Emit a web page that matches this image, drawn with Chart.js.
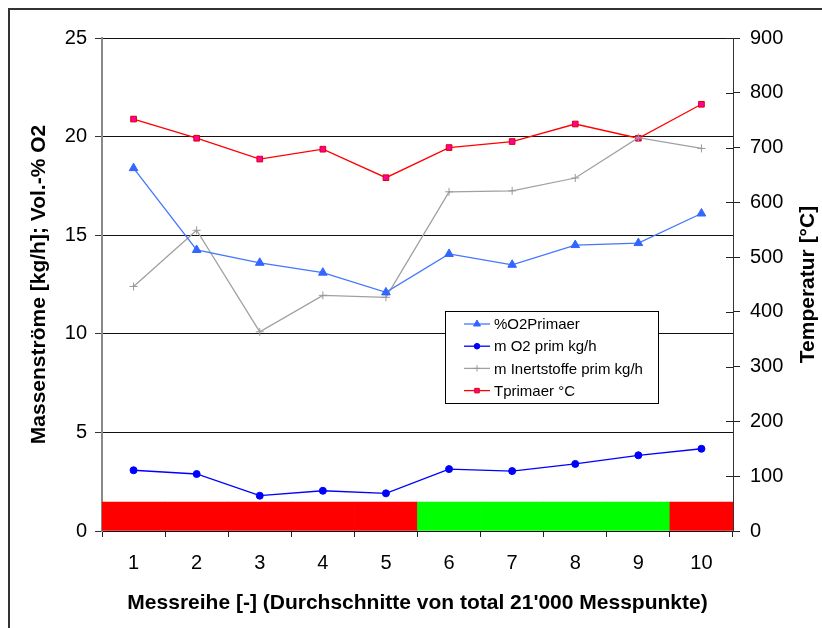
<!DOCTYPE html>
<html>
<head>
<meta charset="utf-8">
<script src="https://cdn.jsdelivr.net/npm/chart.js@4/dist/chart.umd.min.js"></script>
<style>
    html, body { margin: 0; padding: 0; background: #fff; overflow: hidden; }
    #wrap { position: relative; width: 822px; height: 628px; }
    #frame { position: absolute; left: 8px; top: 8px; width: 830px; height: 640px; border: 2px solid #333; box-sizing: border-box; pointer-events: none; }
</style>
</head>
<body>
<div id="wrap">
    <canvas id="chart" width="822" height="628"></canvas>
    <div id="frame"></div>
</div>
<script>
const categories = ['1', '2', '3', '4', '5', '6', '7', '8', '9', '10'];
const o2Primaer = [18.4, 14.25, 13.6, 13.1, 12.1, 14.05, 13.5, 14.5, 14.6, 16.1];
const mO2Prim = [3.08, 2.89, 1.79, 2.04, 1.91, 3.14, 3.04, 3.4, 3.84, 4.17];
const mInertPrim = [12.4, 15.25, 10.1, 11.95, 11.85, 17.2, 17.25, 17.9, 19.95, 19.4];
const tPrimaer = [752, 717, 679, 697, 645, 700, 711, 743, 717, 779];
// Betriebszustand je Messreihe (Band unten)
const bandStatus = ['rot', 'rot', 'rot', 'rot', 'rot', 'gruen', 'gruen', 'gruen', 'gruen', 'rot'];
const bandHeight = [1.47, 1.47, 1.47, 1.47, 1.47, 1.47, 1.47, 1.47, 1.47, 1.47];
const leftTicks = [0, 5, 10, 15, 20, 25];
const rightTicks = [0, 100, 200, 300, 400, 500, 600, 700, 800, 900];

const FONT = "'Liberation Sans', Arial, sans-serif";
Chart.defaults.font.family = FONT;
Chart.defaults.color = '#000';

const bandColors = {rot: '#ff0000', gruen: '#00ff00'};

const lineSets = [{
    label: '%O2Primaer',
    data: o2Primaer,
    yAxisID: 'y',
    borderColor: '#4477ff',
    pointBackgroundColor: '#3366ff',
    pointBorderColor: '#3366ff',
    pointStyle: 'triangle',
    pointRadius: 5
}, {
    label: 'm O2 prim kg/h',
    data: mO2Prim,
    yAxisID: 'y',
    borderColor: '#0000ff',
    pointBackgroundColor: '#0000ff',
    pointBorderColor: '#0000ff',
    pointStyle: 'circle',
    pointRadius: 3.5
}, {
    label: 'm Inertstoffe prim kg/h',
    data: mInertPrim,
    yAxisID: 'y',
    borderColor: '#a0a0a0',
    pointBackgroundColor: '#999',
    pointBorderColor: '#999',
    pointStyle: 'cross',
    pointRadius: 4
}, {
    label: 'Tprimaer °C',
    data: tPrimaer,
    yAxisID: 'y2',
    borderColor: '#ff0000',
    pointBackgroundColor: '#ff0099',
    pointBorderColor: '#dd0000',
    pointStyle: 'rect',
    pointRadius: 4
}];

lineSets.forEach((ds, i) => Object.assign(ds, {
    type: 'line',
    borderWidth: 1.3,
    pointBorderWidth: 1,
    tension: 0,
    order: i + 1
}));

// kleine Striche nach innen an der rechten Achse + Titel rechts
const rightAxisExtras = {
    id: 'rightAxisExtras',
    afterDraw(chart) {
        const ctx = chart.ctx;
        const y2 = chart.scales.y2;
        const area = chart.chartArea;
        ctx.save();
        ctx.strokeStyle = '#222';
        ctx.lineWidth = 1;
        y2.ticks.forEach(t => {
            const py = Math.round(y2.getPixelForValue(t.value)) + 0.5;
            ctx.beginPath();
            ctx.moveTo(area.right - 7, py);
            ctx.lineTo(area.right, py);
            ctx.stroke();
        });
        ctx.translate(808, (area.top + area.bottom) / 2);
        ctx.rotate(-Math.PI / 2);
        ctx.font = 'bold 21px ' + FONT;
        ctx.fillStyle = '#000';
        ctx.textAlign = 'center';
        ctx.textBaseline = 'middle';
        ctx.fillText('Temperatur [°C]', 0, 0);
        ctx.restore();
    }
};

const legendBox = {
    id: 'legendBox',
    afterDraw(chart) {
        const ctx = chart.ctx;
        const x = 445.5, y = 311.5, w = 213, h = 92;
        ctx.save();
        ctx.fillStyle = '#fff';
        ctx.fillRect(x, y, w, h);
        ctx.strokeStyle = '#000';
        ctx.lineWidth = 1;
        ctx.strokeRect(x, y, w, h);
        ctx.font = '15px ' + FONT;
        ctx.textBaseline = 'middle';
        lineSets.forEach((ds, i) => {
            const ry = 324 + i * 22.2;
            ctx.strokeStyle = ds.borderColor;
            ctx.lineWidth = 1.3;
            ctx.beginPath();
            ctx.moveTo(464, ry);
            ctx.lineTo(490, ry);
            ctx.stroke();
            ctx.fillStyle = ds.pointBackgroundColor;
            ctx.strokeStyle = ds.pointBorderColor;
            ctx.lineWidth = 1;
            Chart.helpers.drawPoint(ctx, {
                pointStyle: ds.pointStyle,
                radius: ds.pointRadius * 0.8,
                rotation: 0,
                borderWidth: 1
            }, 477, ry);
            ctx.fillStyle = '#000';
            ctx.fillText(ds.label, 494, ry + 1);
        });
        ctx.restore();
    }
};

const config = {
    data: {
        labels: categories,
        datasets: [...lineSets, {
            type: 'bar',
            label: 'Status',
            data: bandHeight,
            yAxisID: 'y',
            backgroundColor: bandStatus.map(s => bandColors[s]),
            borderWidth: 0,
            barPercentage: 1,
            categoryPercentage: 1,
            order: 10
        }]
    },
    options: {
        responsive: false,
        animation: false,
        layout: {padding: {top: 38, left: 0, right: 0, bottom: 0}},
        plugins: {
            legend: {display: false},
            tooltip: {enabled: false}
        },
        scales: {
            x: {
                offset: true,
                grid: {
                    offset: true,
                    drawOnChartArea: false,
                    tickLength: 6,
                    tickColor: '#222'
                },
                border: {color: '#111', width: 1},
                ticks: {font: {size: 20}, padding: 14},
                title: {
                    display: true,
                    text: "Messreihe [-] (Durchschnitte von total 21'000 Messpunkte)",
                    font: {size: 21, weight: 'bold'},
                    padding: {top: 0, bottom: 12}
                },
                afterFit: (scale) => { scale.height = 97; }
            },
            y: {
                position: 'left',
                min: 0,
                max: 25,
                afterBuildTicks: (scale) => { scale.ticks = leftTicks.map(v => ({value: v})); },
                grid: {
                    color: '#111',
                    lineWidth: 1,
                    tickLength: 7,
                    tickColor: '#333'
                },
                border: {color: '#888', width: 2},
                ticks: {font: {size: 20}, padding: 8},
                title: {
                    display: true,
                    text: 'Massenströme [kg/h]; Vol.-% O2',
                    font: {size: 21, weight: 'bold'},
                    padding: {top: 27, bottom: 0}
                },
                afterFit: (scale) => { scale.width = 102; }
            },
            y2: {
                position: 'right',
                min: 0,
                max: 900,
                afterBuildTicks: (scale) => { scale.ticks = rightTicks.map(v => ({value: v})); },
                grid: {
                    drawOnChartArea: false,
                    tickLength: 7,
                    tickColor: '#222'
                },
                border: {color: '#333', width: 1},
                ticks: {font: {size: 20}, padding: 10},
                afterFit: (scale) => { scale.width = 89; }
            }
        }
    },
    plugins: [rightAxisExtras, legendBox]
};

const chart = new Chart(document.getElementById('chart'), config);
</script>
</body>
</html>
